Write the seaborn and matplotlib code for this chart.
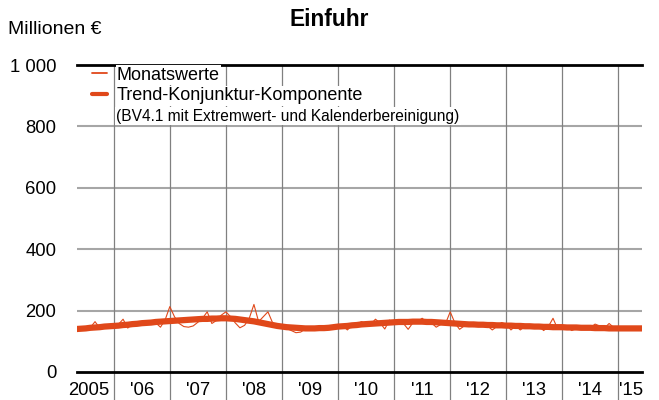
import numpy as np
import pandas as pd
import seaborn as sns
import matplotlib.pyplot as plt

# Monatswerte Mai 2005 - Juni 2015 (Millionen EUR)
start_year = 2005
start_month = 5
monatswerte = [
    138, 142, 140, 145, 164, 143, 146, 144,                      # 2005 (Mai-Dez)
    152, 155, 172, 143, 158, 160, 156, 162, 164, 160, 146, 170,  # 2006
    213, 180, 158, 148, 146, 150, 162, 175, 196, 158, 168, 185,  # 2007
    196, 180, 160, 144, 152, 175, 220, 164, 180, 196, 160, 150,  # 2008
    150, 142, 135, 128, 130, 140, 145, 148, 146, 150, 145, 148,  # 2009
    145, 150, 137, 152, 155, 164, 158, 155, 172, 160, 140, 169,  # 2010
    160, 165, 158, 139, 160, 164, 175, 162, 160, 146, 155, 158,  # 2011
    196, 160, 139, 150, 152, 148, 155, 158, 150, 137, 148, 161,  # 2012
    155, 137, 150, 137, 148, 150, 146, 149, 135, 148, 175, 140,  # 2013
    142, 148, 135, 142, 145, 140, 145, 156, 150, 143, 158, 145,  # 2014
    139, 145, 140, 143, 141, 142,                                # 2015 (Jan-Jun)
]
trend = [
    140, 141, 142, 144, 145, 146, 148, 149,
    150, 151, 153, 154, 156, 157, 159, 160, 161, 163, 164, 165,
    166, 167, 168, 169, 170, 171, 172, 173, 173, 174, 174, 175,
    175, 174, 173, 171, 169, 167, 165, 162, 159, 156, 153, 150,
    148, 146, 145, 144, 143, 142, 142, 142, 143, 143, 144, 146,
    148, 149, 150, 152, 153, 155, 156, 157, 158, 159, 160, 161,
    162, 163, 163, 163, 164, 164, 164, 163, 163, 162, 161, 160,
    159, 158, 157, 156, 155, 155, 154, 154, 153, 153, 152, 152,
    151, 151, 150, 150, 149, 149, 148, 148, 147, 147, 146, 146,
    146, 145, 145, 145, 144, 144, 144, 143, 143, 143, 142, 142,
    142, 142, 142, 142, 142, 142,
]
year_labels = ["2005", "'06", "'07", "'08", "'09", "'10", "'11", "'12", "'13", "'14", "'15"]
label_pos = [2005.55, 2006.5, 2007.5, 2008.5, 2009.5, 2010.5, 2011.5, 2012.5, 2013.5, 2014.5, 2015.22]
y_ticks = [0, 200, 400, 600, 800, 1000]
y_labels = ["0", "200", "400", "600", "800", "1 000"]

n = len(monatswerte)
zeit = [start_year + (start_month - 1 + i) // 12 + ((start_month - 1 + i) % 12) / 12 for i in range(n)]
df = pd.DataFrame({"zeit": zeit, "monat": monatswerte, "trend": trend})

sns.set_style("white")
plt.rcParams['font.family'] = ['Liberation Sans', 'DejaVu Sans']
plt.rcParams['text.color'] = 'black'
plt.rcParams['xtick.color'] = 'black'
plt.rcParams['ytick.color'] = 'black'

color = "#E0481A"
fig = plt.figure(figsize=(6.59, 4.0), dpi=100)
ax = fig.add_axes([77 / 659, 1 - 372 / 400, (642 - 77) / 659, (372 - 65) / 400])

# Gitter
for y in [200, 400, 600, 800]:
    ax.axhline(y, color="#a6a6a6", lw=1.5, zorder=1)
for yr in range(2006, 2016):
    ax.axvline(yr, ymin=-0.095, ymax=1, color="#808080", lw=0.9, clip_on=False, zorder=1)

sns.lineplot(data=df, x="zeit", y="monat", color=color, lw=0.8, ax=ax,
             label="Monatswerte", zorder=3)
sns.lineplot(data=df, x="zeit", y="trend", color=color, lw=4.5, ax=ax,
             label="Trend-Konjunktur-Komponente", zorder=4)

ax.set_xlim(2005.345, 2015.42)
ax.set_ylim(0, 1000)
ax.set_xlabel("")
ax.set_ylabel("")

for s in ["left", "right"]:
    ax.spines[s].set_visible(False)
for s in ["top", "bottom"]:
    ax.spines[s].set_color("black")
    ax.spines[s].set_linewidth(2)

ax.set_yticks(y_ticks)
ax.set_yticklabels(y_labels, fontsize=13.3)
ax.set_xticks(label_pos)
ax.set_xticklabels(year_labels, fontsize=13.3)
ax.tick_params(axis="both", length=0)
ax.tick_params(axis="y", pad=15)
ax.tick_params(axis="x", pad=7)

leg = ax.legend(loc="upper left", bbox_to_anchor=(0.026, 0.995), frameon=False,
                fontsize=13, handlelength=0.85, handletextpad=0.55,
                borderaxespad=0, borderpad=0, labelspacing=0.2)
for h in leg.get_lines():
    h.set_linewidth(1.3 if h.get_label() == "Monatswerte" else 3.0)
for t in leg.get_texts():
    t.set_color("black")
    t.set_bbox(dict(facecolor="white", edgecolor="none", pad=1))
ax.text((116 - 77) / 565, 1 - (116 - 65) / 307,
        "(BV4.1 mit Extremwert- und Kalenderbereinigung)",
        transform=ax.transAxes, fontsize=11.2, va="center", ha="left",
        bbox=dict(facecolor="white", edgecolor="none", pad=1), zorder=5)

fig.text(8 / 659, 1 - 30 / 400, "Millionen €", fontsize=14, va="center", ha="left")
fig.text(329 / 659, 1 - 19 / 400, "Einfuhr", fontsize=16.3, fontweight="bold",
         va="center", ha="center")

fig.savefig("out.png", dpi=100)
